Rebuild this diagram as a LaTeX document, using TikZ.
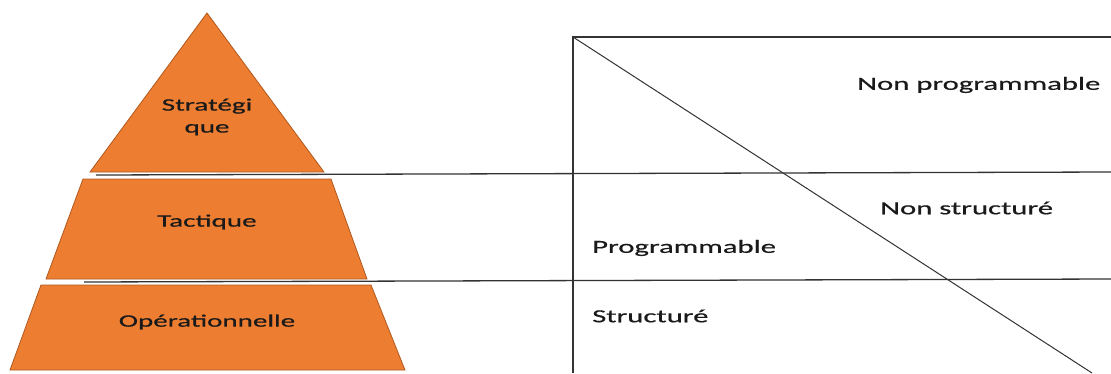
\documentclass[tikz,border=0pt]{standalone}
\usepackage{fontspec}
\setmainfont[FakeStretch=1.66,FakeBold=0.6]{Carlito}
\definecolor{pyr}{HTML}{ED7D31}
\definecolor{pyrline}{HTML}{B0591E}
\definecolor{txt}{HTML}{1A1A1A}
\begin{document}
\begin{tikzpicture}[x=1pt,y=-1pt,
  level/.style={fill=pyr,draw=pyrline,line width=0.8pt},
  rule/.style={draw=black!80,line width=1.3pt},
  lbl/.style={font=\fontsize{18.5}{23}\selectfont,text=txt,inner sep=0pt},
  lvl/.style={font=\fontsize{17.5}{22}\selectfont,text=txt,inner sep=0pt,align=center}]
\useasboundingbox (0,0) rectangle (1111,373);
% pyramid
\draw[level] (207,13) -- (324,172) -- (90,172) -- cycle;
\draw[level] (83,179) -- (331,179) -- (367,279) -- (46,279) -- cycle;
\draw[level] (41,285) -- (371,285) -- (405,370) -- (10,370) -- cycle;
\node[lvl] (strat) at (207,117) {Stratégi\\que};
\node[lvl] (tact) at (207,222) {Tactique};
\node[lvl] (oper) at (207,322) {Opérationnelle};
% grid
\coordinate (tl) at (573,37);
\coordinate (tr) at (1111,37);
\coordinate (bl) at (573,373);
\coordinate (h1a) at (96,175);
\coordinate (h1b) at (1111,172);
\coordinate (h2a) at (84,282);
\coordinate (h2b) at (1111,279);
\coordinate (dg) at (1092,373);
\draw[rule] (tr) -- (tl) -- (bl);
\draw[rule] (h1a) -- (h1b);
\draw[rule] (h2a) -- (h2b);
\draw[rule,line width=1pt] (tl) -- (dg);
% labels
\node[lbl,anchor=west] (np) at (857,85) {Non programmable};
\node[lbl,anchor=west] (ns) at (880,208) {Non structuré};
\node[lbl,anchor=west] (pr) at (592,248) {Programmable};
\node[lbl,anchor=west] (st) at (592,316) {Structuré};
\end{tikzpicture}
\end{document}
